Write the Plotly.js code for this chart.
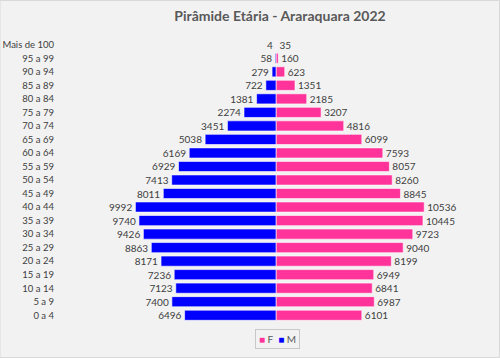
<!DOCTYPE html>
<html><head><meta charset="utf-8">
<script src="https://cdn.plot.ly/plotly-3.0.1.min.js"></script>
<style>html,body{margin:0;padding:0;background:#f2f2f2}#c{width:500px;height:358px}</style>
</head><body><div id="c"></div>
<script>
const categories = ["Mais de 100","95 a 99","90 a 94","85 a 89","80 a 84","75 a 79","70 a 74","65 a 69","60 a 64","55 a 59","50 a 54","45 a 49","40 a 44","35 a 39","30 a 34","25 a 29","20 a 24","15 a 19","10 a 14","5 a 9","0 a 4"];
const male = [4,58,279,722,1381,2274,3451,5038,6169,6929,7413,8011,9992,9740,9426,8863,8171,7236,7123,7400,6496];
const female = [35,160,623,1351,2185,3207,4816,6099,7593,8057,8260,8845,10536,10445,9723,9040,8199,6949,6841,6987,6101];
const seriesNames = ['F','M'];
const seriesColors = ['#FF3399','#0000FF'];

const font = "Lato, 'Open Sans', sans-serif";
const data = [
  {type:'bar', orientation:'h', name:seriesNames[0], y:categories, x:female,
   text:female.map(String), textposition:'outside', constraintext:'none', cliponaxis:false,
   textfont:{size:10, color:'#404040', family:font}, showlegend:false,
   marker:{color:seriesColors[0], line:{color:'#ffffff', width:0.6}}, hoverinfo:'skip'},
  {type:'bar', orientation:'h', name:seriesNames[1], y:categories, x:male.map(v=>-v),
   text:male.map(String), textposition:'outside', constraintext:'none', cliponaxis:false,
   textfont:{size:10, color:'#404040', family:font}, showlegend:false,
   marker:{color:seriesColors[1], line:{color:'#ffffff', width:0.6}}, hoverinfo:'skip'}
];
const legendText = seriesNames.map((n,i)=>`<span style="color:${seriesColors[i]}">■</span> <span style="color:#595959">${n}</span>`).join('  ');
const layout = {
  width:500, height:358,
  paper_bgcolor:'#f2f2f2', plot_bgcolor:'#f2f2f2',
  margin:{l:60, r:10, t:38, b:36, autoexpand:false},
  font:{family:font, color:'#404040', size:10},
  title:{text:'<b>Pirâmide Etária - Araraquara 2022</b>', font:{size:14, color:'#595959', family:font}, x:0.56, xanchor:'center', y:0.955, yanchor:'middle'},
  barmode:'overlay', bargap:0.25,
  showlegend:false,
  xaxis:{range:[-15352, 15210], visible:false, showgrid:false, zeroline:false, fixedrange:true},
  yaxis:{type:'category', autorange:'reversed', showgrid:false, showline:false, ticks:'', zeroline:false,
    ticklabelstandoff:5, tickfont:{size:9.5, color:'#404040'}, fixedrange:true},
  annotations:[{xref:'paper', yref:'paper', x:(277-60)/430, y:-(339-322)/284, xanchor:'center', yanchor:'middle',
    text:legendText, showarrow:false, font:{size:10, family:font}, bordercolor:'#c8c8c8', borderwidth:1, borderpad:3}],
  shapes:[{type:'rect', xref:'paper', yref:'paper', x0:-60/430, x1:1+9.5/430, y0:-35.5/284, y1:1+37.5/284,
    line:{color:'#d9d9d9', width:1}, fillcolor:'rgba(0,0,0,0)'}]
};
Plotly.newPlot('c', data, layout, {displayModeBar:false, staticPlot:true});
</script></body></html>
